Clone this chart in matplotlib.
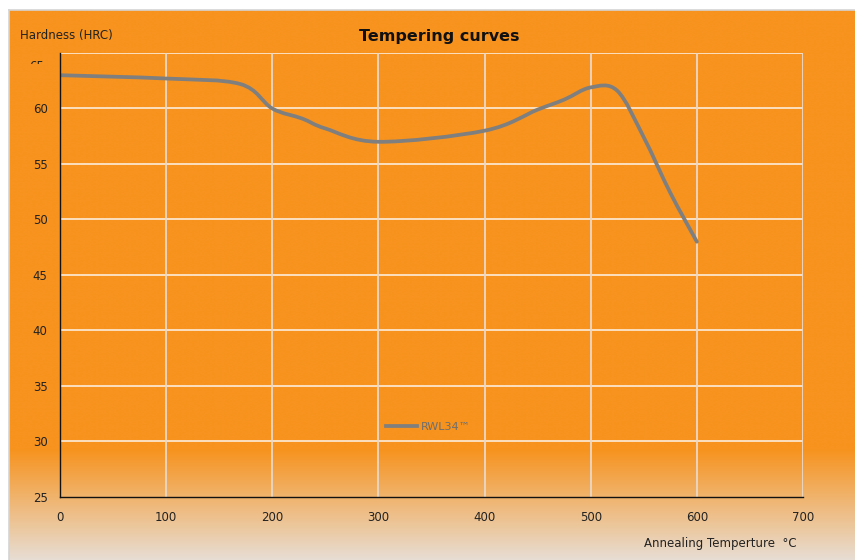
import numpy as np
import matplotlib
matplotlib.use("Agg")
import matplotlib.pyplot as plt
from matplotlib.path import Path
from matplotlib.patches import PathPatch
from matplotlib.lines import Line2D
from matplotlib.transforms import Bbox

# ---- data ----
temps = [0, 100, 170, 200, 228, 250, 300, 400, 450, 475, 500, 525, 550, 575, 600]
hardness = [63.0, 62.7, 62.2, 60.0, 59.1, 58.2, 57.0, 58.0, 59.9, 60.8, 61.9, 61.6, 57.4, 52.4, 48.0]
series_name = "RWL34\u2122"
x_ticks = [0, 100, 200, 300, 400, 500, 600, 700]
y_ticks = [25, 30, 35, 40, 45, 50, 55, 60, 65]
title = "Tempering curves"
y_label = "Hardness (HRC)"
x_label = "Annealing Temperture  \u00b0C"

W, H = 855, 560
fig = plt.figure(figsize=(W / 100, H / 100), dpi=100)
fig.patch.set_facecolor("white")

# background gradient panel
bg = fig.add_axes([0, 0, 1, 1], zorder=0)
bg.set_xlim(0, W)
bg.set_ylim(H, 0)
bg.axis("off")
orange = np.array([247, 147, 30]) / 255.0
pale = np.array([231, 222, 213]) / 255.0
rows = np.arange(H)
t = np.clip((rows - 447) / (H - 447), 0, 1)
cols = orange[None, :] * (1 - t[:, None]) + pale[None, :] * t[:, None]
img = np.repeat(cols[:, None, :], 2, axis=1)
bg.imshow(img, extent=[9, W, H, 10], aspect="auto", interpolation="bilinear")
bg.plot([8.5, 8.5], [9.5, H], color="#D4D4D4", lw=1.2)
bg.plot([8.5, W], [9.5, 9.5], color="#D4D4D4", lw=1.2)

ax = fig.add_axes([60 / W, 1 - 497 / H, (803 - 60) / W, (497 - 53) / H], zorder=2)
ax.set_facecolor("none")
ax.set_xlim(0, 700)
ax.set_ylim(25, 65)
ax.set_xticks(x_ticks)
ax.set_yticks(y_ticks)
ax.set_xticklabels([str(v) for v in x_ticks])
ax.set_yticklabels([str(v) if v != 65 else "" for v in y_ticks])
ax.tick_params(length=0, labelsize=8.5, colors="#222222", pad=9)
ax.tick_params(axis="x", pad=10)
for s in ["top", "right"]:
    ax.spines[s].set_visible(False)
for s in ["left", "bottom"]:
    ax.spines[s].set_color("#111111")
    ax.spines[s].set_linewidth(1.0)
    ax.spines[s].set_zorder(4)
for y in y_ticks[1:]:
    ax.axhline(y, color="#FCE6CC", lw=1.3, zorder=1)
for x in x_ticks[1:]:
    ax.axvline(x, color="#EAD8C8", lw=1.3, zorder=1)

# smoothed line (Catmull-Rom style Bezier, as in spreadsheet charts)
P = np.column_stack([temps, hardness]).astype(float)
n = len(P)
verts = [tuple(P[0])]
codes = [Path.MOVETO]
for i in range(n - 1):
    p0 = P[i - 1] if i > 0 else P[i]
    p1 = P[i]
    p2 = P[i + 1]
    p3 = P[i + 2] if i + 2 < n else P[i + 1]
    c1 = p1 + (p2 - p0) / 6.0
    c2 = p2 - (p3 - p1) / 6.0
    verts += [tuple(c1), tuple(c2), tuple(p2)]
    codes += [Path.CURVE4] * 3
line_color = "#7F7F7F"
patch = PathPatch(Path(verts, codes), facecolor="none", edgecolor=line_color,
                  lw=2.7, capstyle="round", joinstyle="round", zorder=3)
ax.add_patch(patch)

handle = Line2D([], [], color=line_color, lw=2.7)
leg = ax.legend([handle], [series_name], loc="center left",
                bbox_to_anchor=((386 - 60) / 743, (497 - 427) / 444),
                frameon=False, fontsize=8, handlelength=2.8, handletextpad=0.35,
                borderpad=0, borderaxespad=0)
for txt in leg.get_texts():
    txt.set_color("#6E6E6E")

fig.text(439 / W, 1 - 36 / H, title, ha="center", va="center",
         fontsize=11.5, fontweight="bold", color="#111111")
fig.text(20 / W, 1 - 35 / H, y_label, ha="left", va="center",
         fontsize=8.5, color="#222222")
fig.text(797 / W, 1 - 544 / H, x_label, ha="right", va="center",
         fontsize=8.5, color="#222222")

# clipped "65" label as in the reference
t65 = fig.text(44 / W, 1 - 60 / H, "65", ha="right", va="top",
               fontsize=8.5, color="#222222")
t65.set_clip_box(Bbox.from_extents(0, H - 64, 60, H - 50))
t65.set_clip_on(True)

fig.savefig("out.png", dpi=100, facecolor=fig.get_facecolor())
